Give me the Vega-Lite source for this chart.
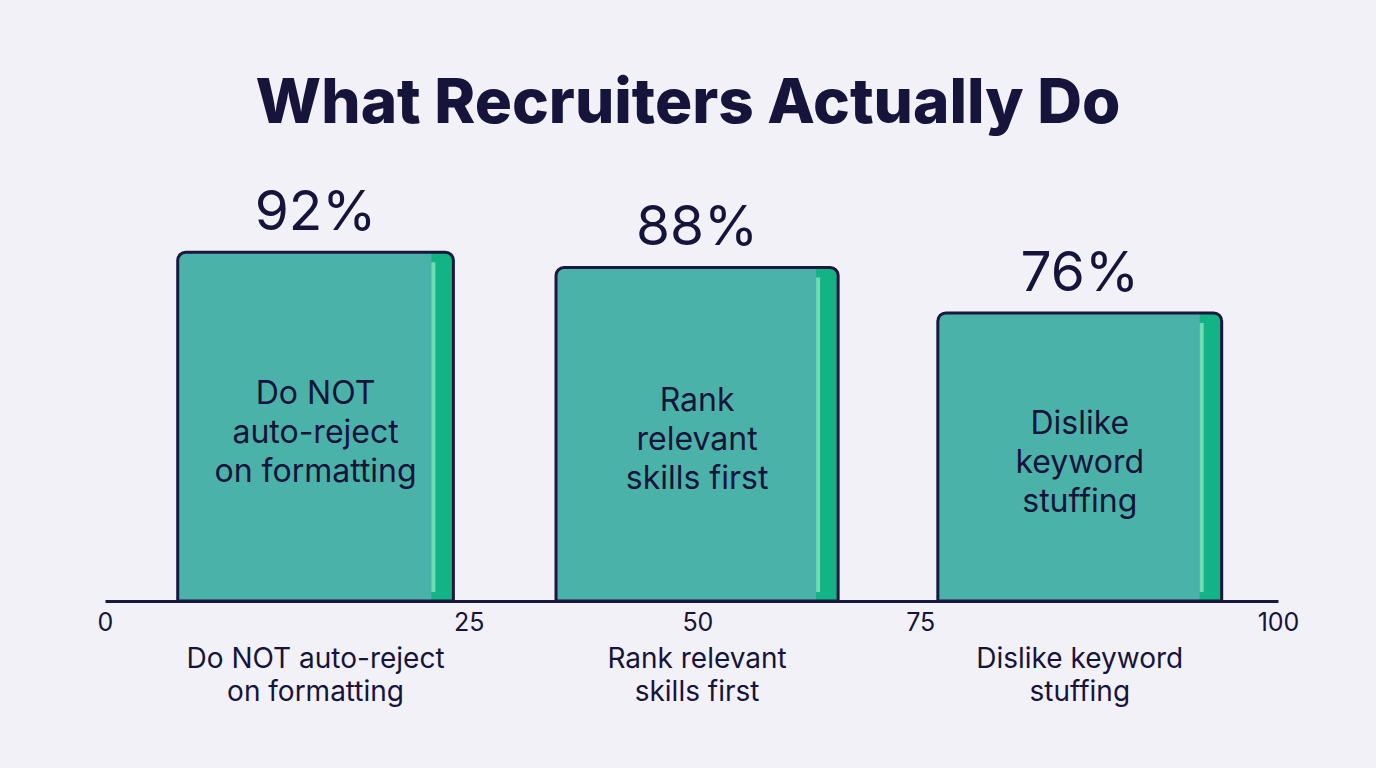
{
  "$schema": "https://vega.github.io/schema/vega-lite/v6.json",
  "width": 1376,
  "height": 618,
  "autosize": {"type": "none"},
  "padding": {"top": 150, "left": 0, "right": 0, "bottom": 0},
  "background": "#f2f1f7",
  "config": {"view": {"stroke": null}, "font": "Inter"},
  "title": {
    "text": "What Recruiters Actually Do",
    "fontSize": 62,
    "fontWeight": 800,
    "font": "Inter",
    "color": "#16143a",
    "anchor": "middle",
    "baseline": "alphabetic",
    "offset": -35
  },
  "data": {
    "values": [
      {"category": "Do NOT auto-reject on formatting", "inside": ["Do NOT", "auto-reject", "on formatting"], "below": ["Do NOT auto-reject", "on formatting"], "value": 92, "pct": "92%", "start": 6.2, "end": 29.7},
      {"category": "Rank relevant skills first", "inside": ["Rank", "relevant", "skills first"], "below": ["Rank relevant", "skills first"], "value": 88, "pct": "88%", "start": 38.45, "end": 62.5},
      {"category": "Dislike keyword stuffing", "inside": ["Dislike", "keyword", "stuffing"], "below": ["Dislike keyword", "stuffing"], "value": 76, "pct": "76%", "start": 71.0, "end": 95.2}
    ]
  },
  "transform": [
    {"calculate": "(datum.start + datum.end) / 2", "as": "mid"},
    {"calculate": "datum.value / 2", "as": "half"}
  ],
  "layer": [
    {
      "mark": {"type": "bar", "fill": "#4bb2a9", "cornerRadiusTopLeft": 8, "cornerRadiusTopRight": 8},
      "encoding": {
        "x": {"field": "start", "type": "quantitative", "title": null,
          "scale": {"domain": [0, 100], "range": [105, 1278]},
          "axis": {"values": [0, 31, 50.5, 69.5, 100],
            "labelExpr": "datum.value == 0 ? '0' : datum.value == 31 ? '25' : datum.value == 50.5 ? '50' : datum.value == 69.5 ? '75' : '100'",
            "offset": -167, "domainColor": "#1a1740", "domainWidth": 3, "ticks": false, "grid": false,
            "labelFontSize": 25, "labelColor": "#16143a", "labelPadding": 9, "labelFont": "Inter", "title": null,
            "labelFlush": false, "labelOverlap": false}},
        "x2": {"field": "end"},
        "y": {"field": "value", "type": "quantitative", "title": null, "scale": {"domain": [0, 100], "range": [451, 72]}, "axis": null},
        "y2": {"datum": 0}
      }
    },
    {
      "mark": {"type": "bar", "fill": "#12b384", "xOffset": -22, "x2Offset": -1, "cornerRadiusTopRight": 7},
      "encoding": {
        "x": {"field": "end", "type": "quantitative", "title": null},
        "x2": {"field": "end"},
        "y": {"field": "value", "type": "quantitative", "title": null, "axis": null},
        "y2": {"datum": 0}
      }
    },
    {
      "mark": {"type": "bar", "fill": "#6fdcb8", "xOffset": -22, "x2Offset": -18, "yOffset": 10, "y2Offset": -9},
      "encoding": {
        "x": {"field": "end", "type": "quantitative", "title": null},
        "x2": {"field": "end"},
        "y": {"field": "value", "type": "quantitative", "title": null, "axis": null},
        "y2": {"datum": 0}
      }
    },
    {
      "mark": {"type": "bar", "fill": "#4bb2a9", "fillOpacity": 0, "stroke": "#1a1740", "strokeWidth": 3, "cornerRadiusTopLeft": 8, "cornerRadiusTopRight": 8},
      "encoding": {
        "x": {"field": "start", "type": "quantitative", "title": null},
        "x2": {"field": "end"},
        "y": {"field": "value", "type": "quantitative", "title": null, "axis": null},
        "y2": {"datum": 0}
      }
    },
    {
      "mark": {"type": "text", "fontSize": 55, "baseline": "alphabetic", "dy": -22, "color": "#16143a", "font": "Inter"},
      "encoding": {
        "x": {"field": "mid", "type": "quantitative", "title": null},
        "y": {"field": "value", "type": "quantitative", "title": null, "axis": null},
        "text": {"field": "pct"}
      }
    },
    {
      "mark": {"type": "text", "fontSize": 32, "baseline": "middle", "lineHeight": 39, "dy": -33, "color": "#16143a", "font": "Inter"},
      "encoding": {
        "x": {"field": "mid", "type": "quantitative", "title": null},
        "y": {"field": "half", "type": "quantitative", "title": null, "axis": null},
        "text": {"field": "inside"}
      }
    },
    {
      "mark": {"type": "text", "fontSize": 28, "baseline": "middle", "lineHeight": 33, "dy": 59, "color": "#16143a", "font": "Inter"},
      "encoding": {
        "x": {"field": "mid", "type": "quantitative", "title": null},
        "y": {"datum": 0, "type": "quantitative"},
        "text": {"field": "below"}
      }
    }
  ]
}
